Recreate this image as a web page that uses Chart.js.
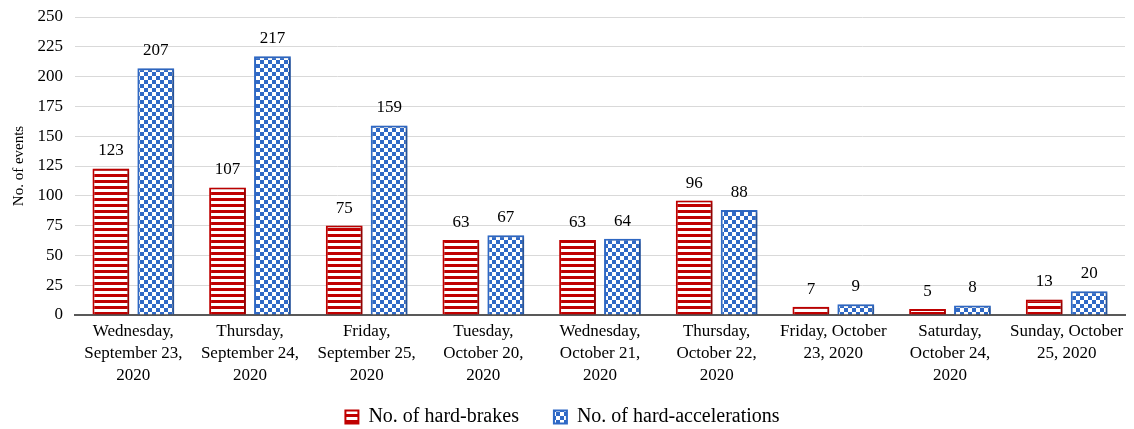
<!DOCTYPE html>
<html>
<head>
<meta charset="utf-8">
<script src="https://cdn.jsdelivr.net/npm/chart.js@4.4.0/dist/chart.umd.min.js"></script>
<style>
  html, body { margin: 0; padding: 0; background: #fff; }
  #wrap { width: 1134px; height: 429px; }
</style>
</head>
<body>
<div id="wrap"><canvas id="grafico"></canvas></div>
<script>
// dados do gráfico
const dias = [
  ['Wednesday,', 'September 23,', '2020'],
  ['Thursday,', 'September 24,', '2020'],
  ['Friday,', 'September 25,', '2020'],
  ['Tuesday,', 'October 20,', '2020'],
  ['Wednesday,', 'October 21,', '2020'],
  ['Thursday,', 'October 22,', '2020'],
  ['Friday, October', '23, 2020'],
  ['Saturday,', 'October 24,', '2020'],
  ['Sunday, October', '25, 2020']
];
const freadas = [123, 107, 75, 63, 63, 96, 7, 5, 13];
const aceleracoes = [207, 217, 159, 67, 64, 88, 9, 8, 20];

const fonte = 'Liberation Serif, Times New Roman, serif';

// padrão listrado (vermelho)
function padraoListras() {
  const c = document.createElement('canvas');
  c.width = 6; c.height = 6;
  const g = c.getContext('2d');
  g.fillStyle = '#fff';
  g.fillRect(0, 0, 6, 6);
  g.fillStyle = '#C00000';
  g.fillRect(0, 0, 6, 3);
  return g.createPattern(c, 'repeat');
}

// padrão xadrez (azul)
function padraoXadrez() {
  const c = document.createElement('canvas');
  c.width = 8; c.height = 8;
  const g = c.getContext('2d');
  g.fillStyle = '#fff';
  g.fillRect(0, 0, 8, 8);
  g.fillStyle = '#2F69C6';
  g.fillRect(0, 0, 4, 4);
  g.fillRect(4, 4, 4, 4);
  return g.createPattern(c, 'repeat');
}

// escreve os valores em cima das barras
const rotulos = {
  id: 'rotulos',
  afterDatasetsDraw(chart) {
    const ctx = chart.ctx;
    ctx.save();
    ctx.font = '17px ' + fonte;
    ctx.fillStyle = '#000';
    ctx.textAlign = 'center';
    ctx.textBaseline = 'bottom';
    chart.data.datasets.forEach((ds, i) => {
      chart.getDatasetMeta(i).data.forEach((bar, j) => {
        ctx.fillText(ds.data[j], bar.x, bar.y - 9);
      });
    });
    ctx.restore();
  }
};

// sombra leve nas barras
const sombra = {
  id: 'sombra',
  beforeDatasetsDraw(chart) {
    const ctx = chart.ctx;
    ctx.save();
    ctx.shadowColor = 'rgba(0,0,0,0.3)';
    ctx.shadowBlur = 3;
    ctx.shadowOffsetX = 2;
    ctx.shadowOffsetY = 1;
  },
  afterDatasetsDraw(chart) {
    chart.ctx.restore();
  }
};

// desce um pouco a legenda
const desceLegenda = {
  id: 'desceLegenda',
  afterLayout(chart) {
    chart.legend.top += 8;
    chart.legend.bottom += 8;
  }
};

const chart = new Chart(document.getElementById('grafico'), {
  type: 'bar',
  data: {
    labels: dias,
    datasets: [{
      label: 'No. of hard-brakes',
      data: freadas,
      backgroundColor: padraoListras(),
      borderColor: '#C00000',
      borderWidth: 2,
      categoryPercentage: 0.77,
      barPercentage: 0.82
    }, {
      label: 'No. of hard-accelerations',
      data: aceleracoes,
      backgroundColor: padraoXadrez(),
      borderColor: '#2F69C6',
      borderWidth: 2,
      categoryPercentage: 0.77,
      barPercentage: 0.82
    }]
  },
  plugins: [sombra, rotulos, desceLegenda],
  options: {
    responsive: true,
    maintainAspectRatio: false,
    animation: false,
    layout: { padding: { top: 17, right: 9, bottom: 0, left: 0 } },
    plugins: {
      tooltip: { enabled: false },
      legend: {
        position: 'bottom',
        labels: {
          font: { family: fonte, size: 20 },
          color: '#000',
          boxWidth: 13,
          boxHeight: 13,
          padding: 0,
          // espaço extra entre os dois itens da legenda
          generateLabels(chart) {
            const itens = Chart.defaults.plugins.legend.labels.generateLabels(chart);
            itens[0].text = itens[0].text + '       ';
            return itens;
          }
        }
      }
    },
    scales: {
      x: {
        grid: { display: false, drawTicks: false },
        border: { color: '#595959', width: 2 },
        ticks: {
          font: { family: fonte, size: 17, lineHeight: 1.3 },
          color: '#000',
          maxRotation: 0,
          autoSkip: false,
          padding: 5
        },
        afterFit(scale) { scale.height = 84; }
      },
      y: {
        min: 0,
        max: 250,
        ticks: {
          stepSize: 25,
          font: { family: fonte, size: 17 },
          color: '#000',
          padding: 12
        },
        grid: { color: '#D9D9D9', drawTicks: false },
        border: { display: false },
        title: {
          display: true,
          text: 'No. of events',
          font: { family: fonte, size: 15 },
          color: '#000',
          padding: { top: 10, bottom: 4 }
        },
        afterFit(scale) {
          scale.width = 75;
          scale.paddingTop = 0;
          scale.paddingBottom = 0;
        }
      }
    }
  }
});
</script>
</body>
</html>
